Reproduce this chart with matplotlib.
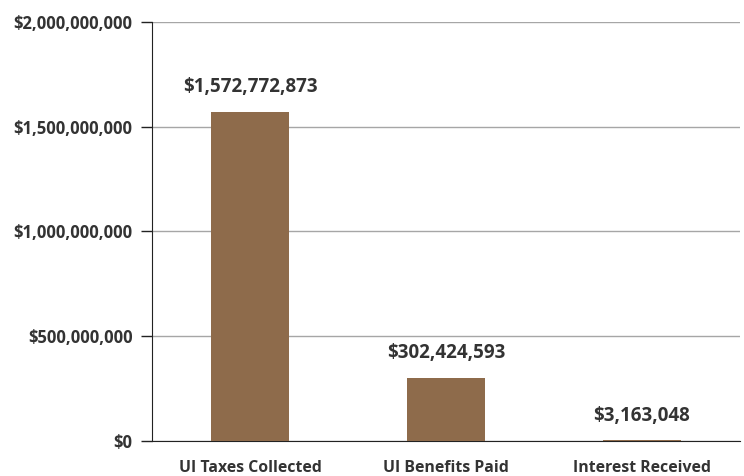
import matplotlib
matplotlib.use("Agg")
import matplotlib.pyplot as plt
from matplotlib.ticker import FuncFormatter

categories = ["UI Taxes Collected", "UI Benefits Paid", "Interest Received"]
values = [1572772873, 302424593, 3163048]

plt.rcParams['font.family'] = ['Open Sans', 'DejaVu Sans']

fig = plt.figure(figsize=(7.44, 4.76), dpi=100)
ax = fig.add_axes([152 / 744, 35 / 476, 588 / 744, 419 / 476])

x = range(len(categories))
ax.bar(x, values, width=0.4, color="#8E6B4B", zorder=3)

for i, v in zip(x, values):
    ax.text(i, v + 70e6, "${:,}".format(v), ha="center", va="bottom",
            fontsize=13.5, fontweight="bold", color="#333333")

ax.set_ylim(0, 2e9)
ax.set_xlim(-0.5, 2.5)
ax.set_yticks([0, 5e8, 1e9, 1.5e9, 2e9])
ax.yaxis.set_major_formatter(FuncFormatter(lambda v, p: "${:,.0f}".format(v)))
ax.set_xticks(list(x))
ax.set_xticklabels(categories)
for lbl in ax.get_yticklabels():
    lbl.set_fontweight("bold")
    lbl.set_color("#333333")
    lbl.set_fontsize(12)
for lbl in ax.get_xticklabels():
    lbl.set_fontweight("bold")
    lbl.set_color("#333333")
    lbl.set_fontsize(11.4)

ax.grid(axis="y", color="#A6A6A6", linewidth=1, zorder=0)
ax.spines["top"].set_visible(False)
ax.spines["right"].set_visible(False)
ax.spines["left"].set_color("#222222")
ax.spines["bottom"].set_color("#222222")
ax.tick_params(axis="y", length=8, width=1, color="#222222", pad=6)
ax.tick_params(axis="x", length=0, pad=14)

fig.savefig("out.png")
